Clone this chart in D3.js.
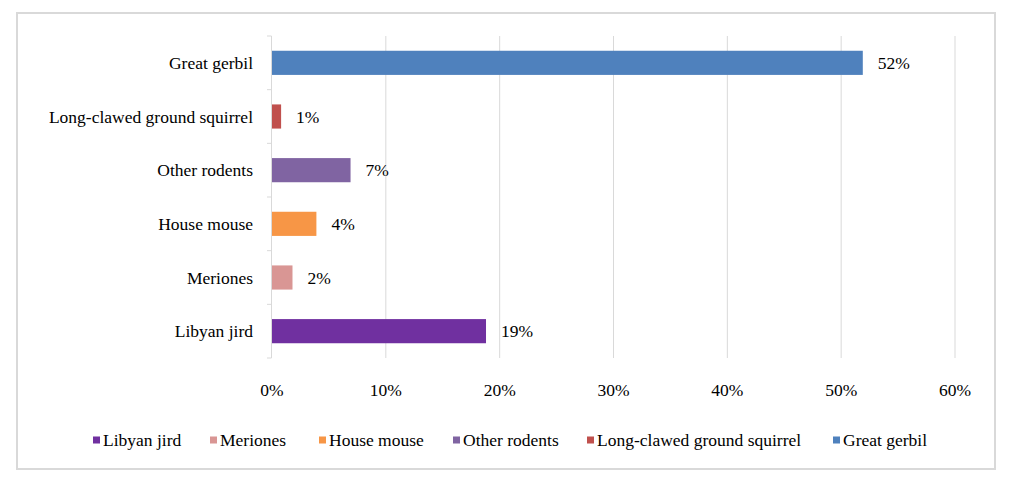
<!DOCTYPE html>
<html>
<head>
<meta charset="utf-8">
<script src="https://cdn.jsdelivr.net/npm/d3@7"></script>
<style>
  body { margin: 0; background: #fff; }
</style>
</head>
<body>
<svg id="chart"></svg>
<script>
// categories top to bottom, as shown
const categories = ["Great gerbil", "Long-clawed ground squirrel", "Other rodents", "House mouse", "Meriones", "Libyan jird"];
const values = [51.9, 0.8, 6.9, 3.9, 1.8, 18.8];
const labels = ["52%", "1%", "7%", "4%", "2%", "19%"];
const colors = ["#4f81bd", "#c0504d", "#8064a2", "#f79646", "#d99694", "#7030a0"];
const xTicks = [0, 10, 20, 30, 40, 50, 60];
// legend runs in reverse order
const legendOrder = ["Libyan jird", "Meriones", "House mouse", "Other rodents", "Long-clawed ground squirrel", "Great gerbil"];

const width = 1010, height = 482;
const margin = { left: 272, right: 55, top: 36, bottom: 124 };
const font = "'Times New Roman', Times, 'Liberation Serif', 'DejaVu Serif', serif";
const fontSize = "17.5px";

const svg = d3.select("#chart")
  .attr("width", width)
  .attr("height", height)
  .attr("font-family", font)
  .style("font-family", font);

// outer frame
svg.append("rect")
  .attr("x", 17).attr("y", 13)
  .attr("width", 978).attr("height", 456)
  .attr("fill", "#fff")
  .attr("stroke", "#d9d9d9")
  .attr("stroke-width", 2);

const x = d3.scaleLinear()
  .domain([0, 60])
  .range([margin.left, width - margin.right]);

const y = d3.scaleBand()
  .domain(categories)
  .range([margin.top, height - margin.bottom])
  .paddingInner(0.55)
  .paddingOuter(0.275);

// gridlines
svg.append("g")
  .selectAll("line")
  .data(xTicks.slice(1))
  .enter().append("line")
  .attr("x1", d => x(d)).attr("x2", d => x(d))
  .attr("y1", margin.top).attr("y2", height - margin.bottom)
  .attr("stroke", "#d9d9d9")
  .attr("stroke-width", 1);

// left category axis line + tick marks at band edges
const step = y.step();
const edges = d3.range(categories.length + 1).map(i => margin.top + i * step);
const yAxis = svg.append("g");
yAxis.append("line")
  .attr("x1", x(0) - 0.5).attr("x2", x(0) - 0.5)
  .attr("y1", margin.top).attr("y2", height - margin.bottom)
  .attr("stroke", "#d9d9d9");
yAxis.selectAll("line.tick")
  .data(edges)
  .enter().append("line")
  .attr("class", "tick")
  .attr("x1", x(0) - 5).attr("x2", x(0) - 0.5)
  .attr("y1", d => d).attr("y2", d => d)
  .attr("stroke", "#d9d9d9");

yAxis.selectAll("text")
  .data(categories)
  .enter().append("text")
  .attr("x", 253)
  .attr("y", d => y(d) + y.bandwidth() / 2)
  .attr("dy", "0.35em")
  .attr("text-anchor", "end")
  .attr("font-size", fontSize)
  .text(d => d);

// bars
svg.append("g")
  .selectAll("rect")
  .data(categories)
  .enter().append("rect")
  .attr("x", x(0))
  .attr("y", d => y(d))
  .attr("width", (d, i) => x(values[i]) - x(0))
  .attr("height", y.bandwidth())
  .attr("fill", (d, i) => colors[i]);

// data labels
svg.append("g")
  .selectAll("text")
  .data(categories)
  .enter().append("text")
  .attr("x", (d, i) => x(values[i]) + 15)
  .attr("y", d => y(d) + y.bandwidth() / 2)
  .attr("dy", "0.35em")
  .attr("font-size", fontSize)
  .text((d, i) => labels[i]);

// x tick labels
svg.append("g")
  .selectAll("text")
  .data(xTicks)
  .enter().append("text")
  .attr("x", d => x(d))
  .attr("y", 390)
  .attr("dy", "0.35em")
  .attr("text-anchor", "middle")
  .attr("font-size", fontSize)
  .text(d => d + "%");

// legend
const legendX = [93, 210, 319, 453, 587, 833];
const legend = svg.append("g")
  .selectAll("g")
  .data(legendOrder)
  .enter().append("g")
  .attr("transform", (d, i) => `translate(${legendX[i]},440)`);

legend.append("rect")
  .attr("x", 0).attr("y", -3.5)
  .attr("width", 7).attr("height", 7)
  .attr("fill", d => colors[categories.indexOf(d)]);

legend.append("text")
  .attr("x", 10)
  .attr("dy", "0.35em")
  .attr("font-size", fontSize)
  .text(d => d);
</script>
</body>
</html>
